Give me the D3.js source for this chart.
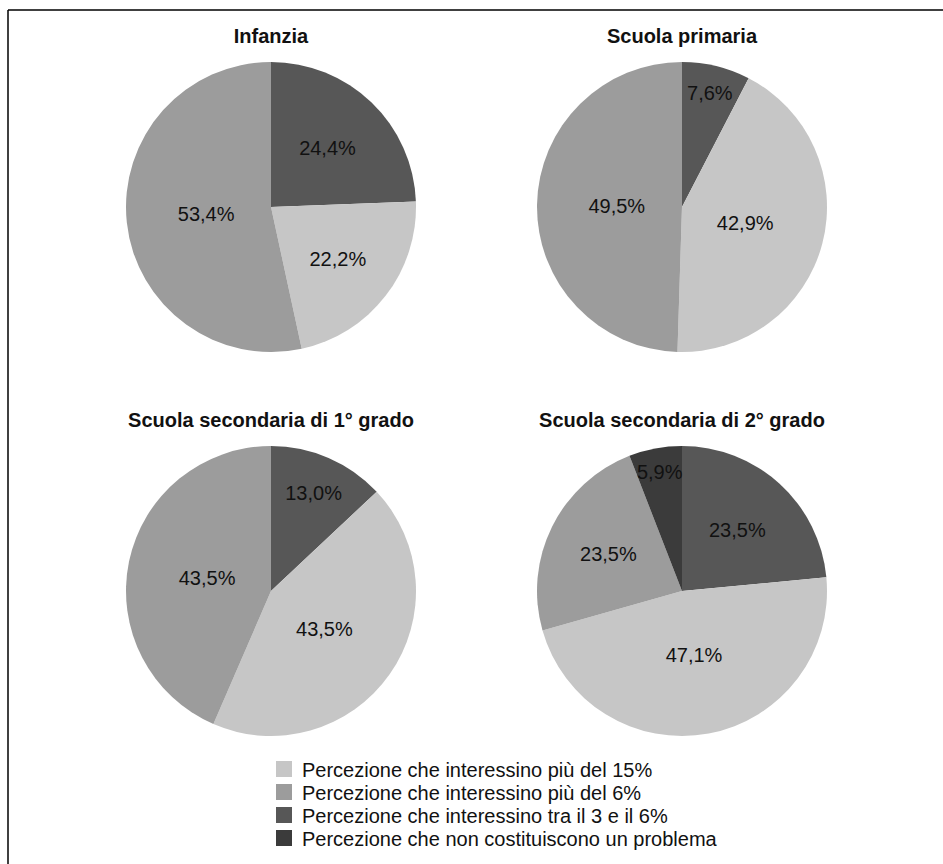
<!DOCTYPE html>
<html>
<head>
  <meta charset="utf-8">
  <title>Percezione per ordine di scuola</title>
  <script src="https://cdn.jsdelivr.net/npm/d3@7"></script>
  <style>
    body { margin: 0; background: #fff; }
    text { font-family: "Liberation Sans", Arial, sans-serif; fill: #111; }
  </style>
</head>
<body>
<script>
// titoli dei quattro grafici
var pannelli = ["Infanzia", "Scuola primaria", "Scuola secondaria di 1° grado", "Scuola secondaria di 2° grado"];

// voci della legenda (in ordine di legenda)
var categorie = [
  "Percezione che interessino più del 15%",
  "Percezione che interessino più del 6%",
  "Percezione che interessino tra il 3 e il 6%",
  "Percezione che non costituiscono un problema"
];

// valori in percentuale, uno per pannello
var piu15   = [22.2, 42.9, 43.5, 47.1];
var piu6    = [53.4, 49.5, 43.5, 23.5];
var tra3e6  = [24.4, 7.6, 13.0, 23.5];
var nessuno = [0, 0, 0, 5.9];

var colori = ["#c6c6c6", "#9c9c9c", "#575757", "#3b3b3b"];

// ordine degli spicchi in senso orario partendo dalle ore 12
var ordineSpicchi = [2, 0, 1, 3];

var larghezza = 943, altezza = 864;
var raggio = 145;
var colX = [271, 682], rigaY = [207, 591];

var svg = d3.select("body").append("svg")
    .attr("width", larghezza)
    .attr("height", altezza);

// cornice (solo lato sinistro e superiore visibili)
svg.append("line").attr("x1", 8).attr("y1", 10).attr("x2", larghezza).attr("y2", 10)
   .attr("stroke", "#000").attr("stroke-width", 1.5);
svg.append("line").attr("x1", 8).attr("y1", 10).attr("x2", 8).attr("y2", altezza)
   .attr("stroke", "#000").attr("stroke-width", 1.5);

var serie = [piu15, piu6, tra3e6, nessuno];
var virgola = d3.formatLocale({decimal: ",", thousands: ".", grouping: [3], currency: ["", "€"]}).format(".1f");

var pie = d3.pie().sort(null).value(function(d) { return d.valore; });
var arc = d3.arc().innerRadius(0).outerRadius(raggio);

// distanza dell'etichetta dal centro in funzione della quota
var distEtichetta = d3.scaleLinear()
    .domain([0.04, 0.13, 0.23, 0.43, 0.55])
    .range([0.86, 0.74, 0.57, 0.45, 0.45])
    .clamp(true);

pannelli.forEach(function(titolo, i) {
  var cx = colX[i % 2], cy = rigaY[Math.floor(i / 2)];
  var dati = ordineSpicchi
      .map(function(k) { return {cat: k, valore: serie[k][i]}; })
      .filter(function(d) { return d.valore > 0; });
  var totale = d3.sum(dati, function(d) { return d.valore; });

  var g = svg.append("g").attr("transform", "translate(" + cx + "," + cy + ")");

  svg.append("text")
     .attr("x", cx).attr("y", cy - 164)
     .attr("text-anchor", "middle")
     .style("font-size", "20px").style("font-weight", "bold")
     .text(titolo);

  var archi = pie(dati);

  g.selectAll("path").data(archi).enter().append("path")
    .attr("d", arc)
    .attr("fill", function(d) { return colori[d.data.cat]; });

  g.selectAll("text.val").data(archi).enter().append("text")
    .attr("class", "val")
    .attr("x", function(d) {
      var m = (d.startAngle + d.endAngle) / 2;
      return Math.sin(m) * raggio * distEtichetta(d.data.valore / totale);
    })
    .attr("y", function(d) {
      var m = (d.startAngle + d.endAngle) / 2;
      return -Math.cos(m) * raggio * distEtichetta(d.data.valore / totale);
    })
    .attr("dy", "0.35em")
    .attr("text-anchor", "middle")
    .style("font-size", "20px")
    .text(function(d) { return virgola(d.data.valore) + "%"; });
});

// legenda
var leg = svg.append("g").attr("transform", "translate(276,761)");
var voce = leg.selectAll("g").data(categorie).enter().append("g")
    .attr("transform", function(d, i) { return "translate(0," + (i * 23) + ")"; });
voce.append("rect")
    .attr("width", 16).attr("height", 16)
    .attr("fill", function(d, i) { return colori[i]; });
voce.append("text")
    .attr("x", 26).attr("y", 15.5)
    .style("font-size", "20px")
    .text(function(d) { return d; });
</script>
</body>
</html>
